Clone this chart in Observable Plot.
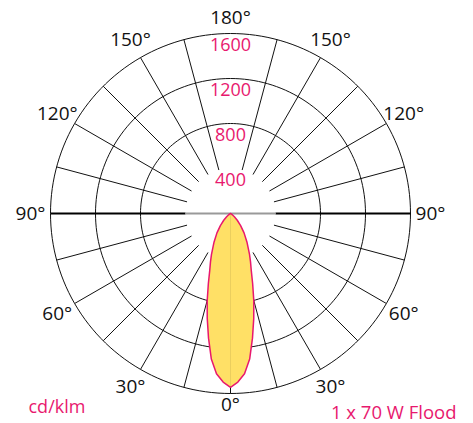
<!DOCTYPE html>
<html>
<head>
<meta charset="utf-8">
<script src="https://cdn.jsdelivr.net/npm/d3@7"></script>
<script src="https://cdn.jsdelivr.net/npm/@observablehq/plot@0.6"></script>
<style>
  html, body { margin: 0; padding: 0; background: #fff; }
  #chart svg { display: block; }
</style>
</head>
<body>
<div id="chart"></div>
<script>
// Luminous intensity (cd/klm) vs gamma angle (0° = straight down), symmetric beam
const gammaAngles = [0, 2.5, 5, 7.5, 10, 12.5, 15, 17.5, 20, 22.5, 25, 30, 35, 40, 45, 50, 55, 60, 70, 80, 90];
const intensity   = [1545, 1500, 1430, 1305, 1125, 955, 800, 655, 540, 465, 400, 292, 210, 140, 85, 45, 20, 8, 2, 0, 0];

const ringValues = [400, 800, 1200, 1600];
const ringLabels = ["400", "800", "1200", "1600"];
const angleTicks = [0, 30, 60, 90, 120, 150, 180];
const unitLabel = "cd/klm";
const titleLabel = "1 x 70 W Flood";

const pink = "#e8186e";
const W = 473, H = 423;
const cx = 230, cy = 213;      // pixel centre
const k = 180 / 1600;           // px per cd/klm
const rMax = 1600, rMin = 400;

// polar helpers (angle in degrees from downward direction, side = +1 right / -1 left)
const px = (a, r, s = 1) => s * r * Math.sin(a * Math.PI / 180);
const py = (a, r) => -r * Math.cos(a * Math.PI / 180);

// circles
const circles = [];
for (const v of ringValues.slice(1)) {
  for (let t = 0; t <= 360; t += 2) circles.push({ring: v, x: v * Math.cos(t * Math.PI / 180), y: v * Math.sin(t * Math.PI / 180)});
}
// spokes every 15°, except 90 (drawn separately) and 180
const spokes = [];
for (let a = 0; a < 180; a += 15) {
  if (a === 90) continue;
  for (const s of (a === 0 ? [1] : [1, -1])) {
    spokes.push({x1: px(a, rMin, s), y1: py(a, rMin), x2: px(a, rMax, s), y2: py(a, rMax)});
  }
}
const horiz = [
  {x1: -rMax, x2: -rMin, y1: 0, y2: 0},
  {x1: rMin, x2: rMax, y1: 0, y2: 0}
];

// beam polygon
const beam = [];
gammaAngles.forEach((a, i) => beam.push({x: px(a, intensity[i], 1), y: py(a, intensity[i])}));
for (let i = gammaAngles.length - 1; i >= 0; i--) beam.push({x: px(gammaAngles[i], intensity[i], -1), y: py(gammaAngles[i], intensity[i])});

// angle labels
const labR = 200 / k;
const angleLabels = [];
for (const a of angleTicks) {
  const r = a === 0 ? 191 / k : a === 180 ? 196 / k : labR;
  for (const s of (a === 0 || a === 180 ? [1] : [1, -1])) {
    angleLabels.push({x: px(a, r, s), y: py(a, r), text: a + "°"});
  }
}
const ringText = ringValues.map((v, i) => ({x: 0, y: v - 100, text: ringLabels[i]}));

const plot = Plot.plot({
  width: W, height: H,
  margin: 0,
  style: {fontFamily: "'Open Sans', sans-serif", background: "#fff"},
  x: {domain: [-cx / k, (W - cx) / k], axis: null},
  y: {domain: [-(H - cy) / k, cy / k], axis: null},
  marks: [
    Plot.line(circles, {x: "x", y: "y", z: "ring", stroke: "#111", strokeWidth: 1}),
    Plot.link(spokes, {x1: "x1", y1: "y1", x2: "x2", y2: "y2", stroke: "#111", strokeWidth: 1}),
    Plot.link(horiz, {x1: "x1", y1: "y1", x2: "x2", y2: "y2", stroke: "#000", strokeWidth: 1.8}),
    Plot.link([{x1: -rMin, x2: rMin, y1: 0, y2: 0}], {x1: "x1", y1: "y1", x2: "x2", y2: "y2", stroke: "#999", strokeWidth: 1.8}),
    Plot.line(beam, {x: "x", y: "y", fill: "#ffe066", stroke: pink, strokeWidth: 1.5, curve: "linear"}),
    Plot.link([{x1: 0, y1: 0, x2: 0, y2: -intensity[0]}], {x1: "x1", y1: "y1", x2: "x2", y2: "y2", stroke: "#000", strokeOpacity: 0.08, strokeWidth: 1}),
    Plot.text(ringText, {x: "x", y: "y", text: "text", fill: pink, fontSize: 18, textAnchor: "middle", lineAnchor: "middle"}),
    Plot.text(angleLabels, {x: "x", y: "y", text: "text", fill: "#111", fontSize: 19, textAnchor: "middle", lineAnchor: "middle"}),
    Plot.text([unitLabel], {frameAnchor: "bottom-left", dx: 28, dy: -16, text: d => d, fill: pink, fontSize: 18, textAnchor: "start", lineAnchor: "middle"}),
    Plot.text([titleLabel], {frameAnchor: "bottom-right", dx: -17, dy: -10, text: d => d, fill: pink, fontSize: 18.5, textAnchor: "end", lineAnchor: "middle"})
  ]
});
document.getElementById("chart").appendChild(plot);
</script>
</body>
</html>
